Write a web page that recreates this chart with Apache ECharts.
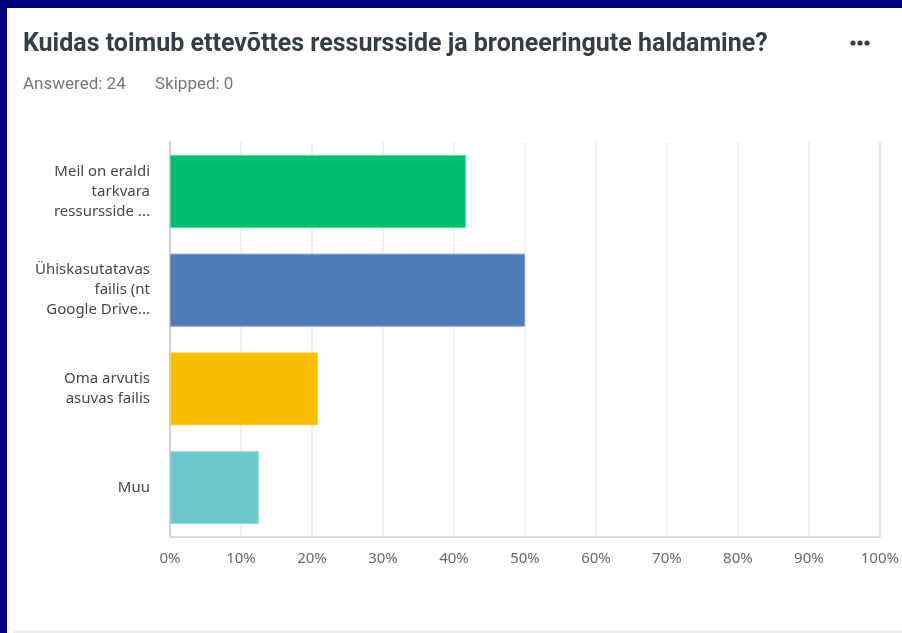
<!DOCTYPE html>
<html>
<head>
<meta charset="utf-8">
<script src="https://cdn.jsdelivr.net/npm/echarts@6/dist/echarts.min.js"></script>
<style>
html,body{margin:0;padding:0;background:#fff;}
#chart{width:902px;height:633px;}
</style>
</head>
<body>
<div id="chart"></div>
<script>
var titleText = 'Kuidas toimub ettevõttes ressursside ja broneeringute haldamine?';
var answeredText = 'Answered: 24';
var skippedText = 'Skipped: 0';
var categories = [
  'Meil on eraldi\ntarkvara\nressursside ...',
  'Ühiskasutatavas\nfailis (nt\nGoogle Drive...',
  'Oma arvutis\nasuvas failis',
  'Muu'
];
var values = [41.67, 50.00, 20.83, 12.50];
var barColors = ['#00BF6F', '#507CB6', '#F9BE00', '#6BC8CD'];
var barBorders = ['#4fd69c', '#7c9dc9', '#fbd04d', '#98d8dc'];
var xTicks = [0, 10, 20, 30, 40, 50, 60, 70, 80, 90, 100];

var chart = echarts.init(document.getElementById('chart'), null, {renderer: 'canvas'});
var splitColors = xTicks.map(function (t, i) { return i === xTicks.length - 1 ? '#d9d9d9' : '#ececec'; });

chart.setOption({
  animation: false,
  backgroundColor: '#ffffff',
  grid: {left: 170, right: 20, top: 142, bottom: 96, containLabel: false},
  xAxis: {
    type: 'value', min: 0, max: 100, interval: 10,
    axisLine: {show: true, lineStyle: {color: '#dcdcdc', width: 2}},
    axisTick: {show: false},
    splitLine: {show: true, lineStyle: {color: splitColors, width: 1.5}},
    axisLabel: {
      formatter: function (v) { return v + '%'; },
      color: '#6a6a6a', fontSize: 15, fontFamily: 'Noto Sans', margin: 14
    }
  },
  yAxis: {
    type: 'category', data: categories, inverse: true,
    axisLine: {show: true, lineStyle: {color: '#cfcfcf', width: 2}},
    axisTick: {show: false},
    axisLabel: {
      color: '#474747', fontSize: 15, fontFamily: 'Noto Sans', lineHeight: 20,
      align: 'right', margin: 20
    }
  },
  series: [{
    type: 'bar',
    barWidth: 73,
    data: values.map(function (v, i) {
      return {value: v, itemStyle: {color: barColors[i], borderColor: barBorders[i], borderWidth: 1}};
    })
  }],
  graphic: [
    {type: 'rect', shape: {x: 0, y: 0, width: 902, height: 8}, style: {fill: '#000080'}, z: 100},
    {type: 'rect', shape: {x: 0, y: 0, width: 7, height: 633}, style: {fill: '#000080'}, z: 100},
    {type: 'rect', shape: {x: 13, y: 631, width: 889, height: 2}, style: {fill: '#eeeeee'}, z: 100},
    {type: 'text', left: 23, top: 32, style: {text: titleText, fill: '#333e48', font: 'bold 25px Roboto'}},
    {type: 'text', left: 23, top: 76, style: {text: answeredText, fill: '#6f7780', font: '17px Roboto'}},
    {type: 'text', left: 155, top: 76, style: {text: skippedText, fill: '#6f7780', font: '17px Roboto'}},
    {type: 'circle', shape: {cx: 853, cy: 43, r: 2.6}, style: {fill: '#333e48'}},
    {type: 'circle', shape: {cx: 860, cy: 43, r: 2.6}, style: {fill: '#333e48'}},
    {type: 'circle', shape: {cx: 867, cy: 43, r: 2.6}, style: {fill: '#333e48'}}
  ]
});
</script>
</body>
</html>
